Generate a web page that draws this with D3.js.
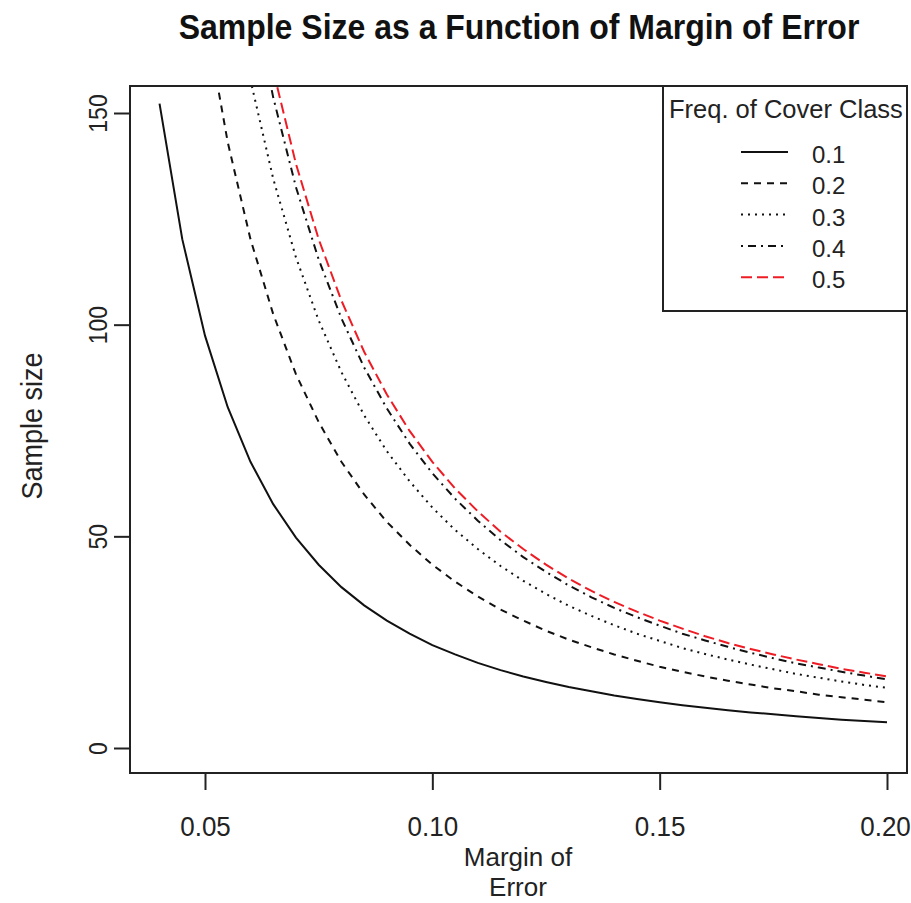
<!DOCTYPE html>
<html>
<head>
<meta charset="utf-8">
<script src="https://cdn.jsdelivr.net/npm/d3@7"></script>
<style>
  html, body { margin: 0; padding: 0; background: #fff; }
  svg { display: block; font-family: "Liberation Sans", Arial, sans-serif; }
</style>
</head>
<body>
<svg id="chart" width="911" height="903"></svg>
<script>
// ---- data ----
const margins = [0.040,0.045,0.050,0.055,0.060,0.065,0.070,0.075,0.080,0.085,0.090,0.095,0.100,
  0.105,0.110,0.115,0.120,0.125,0.130,0.135,0.140,0.145,0.150,0.155,0.160,0.165,0.170,0.175,
  0.180,0.185,0.190,0.195,0.200];
const freqLabels = ["0.1","0.2","0.3","0.4","0.5"];
const size01 = [152.2,120.2,97.4,80.5,67.6,57.6,49.7,43.3,38.0,33.7,30.1,27.0,24.3,22.1,20.1,18.4,
  16.9,15.6,14.4,13.4,12.4,11.6,10.8,10.1,9.5,8.9,8.4,8.0,7.5,7.1,6.7,6.4,6.1];
const size02 = [270.6,213.8,173.2,143.1,120.2,102.5,88.3,77.0,67.6,59.9,53.4,48.0,43.3,39.3,35.8,32.7,
  30.1,27.7,25.6,23.8,22.1,20.6,19.2,18.0,16.9,15.9,15.0,14.1,13.4,12.6,12.0,11.4,10.8];
const size03 = [355.1,280.6,227.3,187.8,157.8,134.5,115.9,101.0,88.8,78.6,70.1,63.0,56.8,51.5,47.0,43.0,
  39.5,36.4,33.6,31.2,29.0,27.0,25.3,23.6,22.2,20.9,19.7,18.6,17.5,16.6,15.7,14.9,14.2];
const size04 = [405.8,320.7,259.7,214.7,180.4,153.7,132.5,115.4,101.5,89.9,80.2,71.9,64.9,58.9,53.7,49.1,
  45.1,41.6,38.4,35.6,33.1,30.9,28.9,27.0,25.4,23.9,22.5,21.2,20.0,19.0,18.0,17.1,16.2];
const size05 = [422.7,334.0,270.6,223.6,187.9,160.1,138.0,120.2,105.7,93.6,83.5,74.9,67.6,61.3,55.9,51.1,
  47.0,43.3,40.0,37.1,34.5,32.2,30.1,28.2,26.4,24.8,23.4,22.1,20.9,19.8,18.7,17.8,16.9];
const xTicks = [0.05, 0.10, 0.15, 0.20];
const xTickLabels = ["0.05", "0.10", "0.15", "0.20"];
const yTicks = [0, 50, 100, 150];
const yTickLabels = ["0", "50", "100", "150"];

const seriesValues = [size01, size02, size03, size04, size05];
const seriesStyles = [
  { color: "#111", dash: null },
  { color: "#111", dash: "7,6" },
  { color: "#111", dash: "2,5" },
  { color: "#111", dash: "2,5,8,5" },
  { color: "#ee1c24", dash: "11,5" }
];

// ---- layout ----
const svg = d3.select("#chart");
const box = { left: 130, right: 907, top: 86, bottom: 773 };

const x = d3.scaleLinear().domain([0.05, 0.20]).range([205, 887]);
const y = d3.scaleLinear().domain([0, 150]).range([748, 113]);

svg.append("defs").append("clipPath").attr("id", "plotclip")
  .append("rect")
  .attr("x", box.left).attr("y", box.top)
  .attr("width", box.right - box.left).attr("height", box.bottom - box.top);

// title
svg.append("text")
  .attr("transform", "translate(519,39) scale(1,1.1)")
  .attr("text-anchor", "middle")
  .attr("font-weight", "bold")
  .attr("font-size", 32)
  .attr("fill", "#111")
  .text("Sample Size as a Function of Margin of Error");

// series lines
const line = d3.line()
  .x((d, i) => x(margins[i]))
  .y(d => y(d));

const g = svg.append("g").attr("clip-path", "url(#plotclip)");
seriesValues.forEach((vals, k) => {
  g.append("path")
    .datum(vals)
    .attr("d", line)
    .attr("fill", "none")
    .attr("stroke", seriesStyles[k].color)
    .attr("stroke-width", 2)
    .attr("stroke-dasharray", seriesStyles[k].dash);
});

// plot box
svg.append("rect")
  .attr("x", box.left).attr("y", box.top)
  .attr("width", box.right - box.left).attr("height", box.bottom - box.top)
  .attr("fill", "none").attr("stroke", "#222").attr("stroke-width", 2);

// x axis
const xAxis = d3.axisBottom(x)
  .tickValues(xTicks)
  .tickFormat((d, i) => xTickLabels[i])
  .tickSize(17);
const gx = svg.append("g").attr("transform", `translate(0,${box.bottom})`).call(xAxis);
gx.select(".domain").remove();
gx.selectAll(".tick line").attr("stroke", "#222").attr("stroke-width", 2);
gx.selectAll(".tick text")
  .attr("font-size", 26)
  .attr("fill", "#222")
  .attr("font-family", "Liberation Sans, Arial, sans-serif")
  .attr("y", null).attr("dy", null)
  .attr("transform", (d, i) => `translate(${i === xTicks.length - 1 ? -2 : 0},63) scale(1,1.08)`);

// y axis
const yAxis = d3.axisLeft(y)
  .tickValues(yTicks)
  .tickFormat((d, i) => yTickLabels[i])
  .tickSize(16)
  .tickPadding(8);
const gy = svg.append("g").attr("transform", `translate(${box.left},0)`).call(yAxis);
gy.select(".domain").remove();
gy.selectAll(".tick line").attr("stroke", "#222").attr("stroke-width", 2);
gy.selectAll(".tick text")
  .attr("font-size", 23)
  .attr("fill", "#222")
  .attr("font-family", "Liberation Sans, Arial, sans-serif")
  .attr("x", null).attr("dy", null)
  .attr("text-anchor", "middle")
  .attr("transform", "translate(-23,0) rotate(-90) scale(1,1.12)");

// axis titles
const xt = svg.append("text")
  .attr("text-anchor", "middle")
  .attr("font-size", 26)
  .attr("fill", "#222");
xt.append("tspan").attr("x", 518).attr("y", 866).text("Margin of");
xt.append("tspan").attr("x", 518).attr("y", 896).text("Error");

svg.append("text")
  .attr("transform", "translate(42,426) rotate(-90) scale(1,1.12)")
  .attr("text-anchor", "middle")
  .attr("font-size", 27)
  .attr("fill", "#222")
  .text("Sample size");

// legend
const leg = { left: 663, right: 907, top: 86, bottom: 311 };
svg.append("rect")
  .attr("x", leg.left).attr("y", leg.top)
  .attr("width", leg.right - leg.left).attr("height", leg.bottom - leg.top)
  .attr("fill", "#fff").attr("stroke", "#222").attr("stroke-width", 2);
svg.append("text")
  .attr("x", 669).attr("y", 118)
  .attr("font-size", 25.5)
  .attr("fill", "#222")
  .text("Freq. of Cover Class");

freqLabels.forEach((lab, k) => {
  const base = 163 + k * 31.3;
  svg.append("line")
    .attr("x1", 741).attr("x2", 788)
    .attr("y1", base - 11).attr("y2", base - 11)
    .attr("stroke", seriesStyles[k].color)
    .attr("stroke-width", 2)
    .attr("stroke-dasharray", seriesStyles[k].dash);
  svg.append("text")
    .attr("x", 812).attr("y", base)
    .attr("font-size", 24)
    .attr("fill", "#222")
    .text(lab);
});
</script>
</body>
</html>
